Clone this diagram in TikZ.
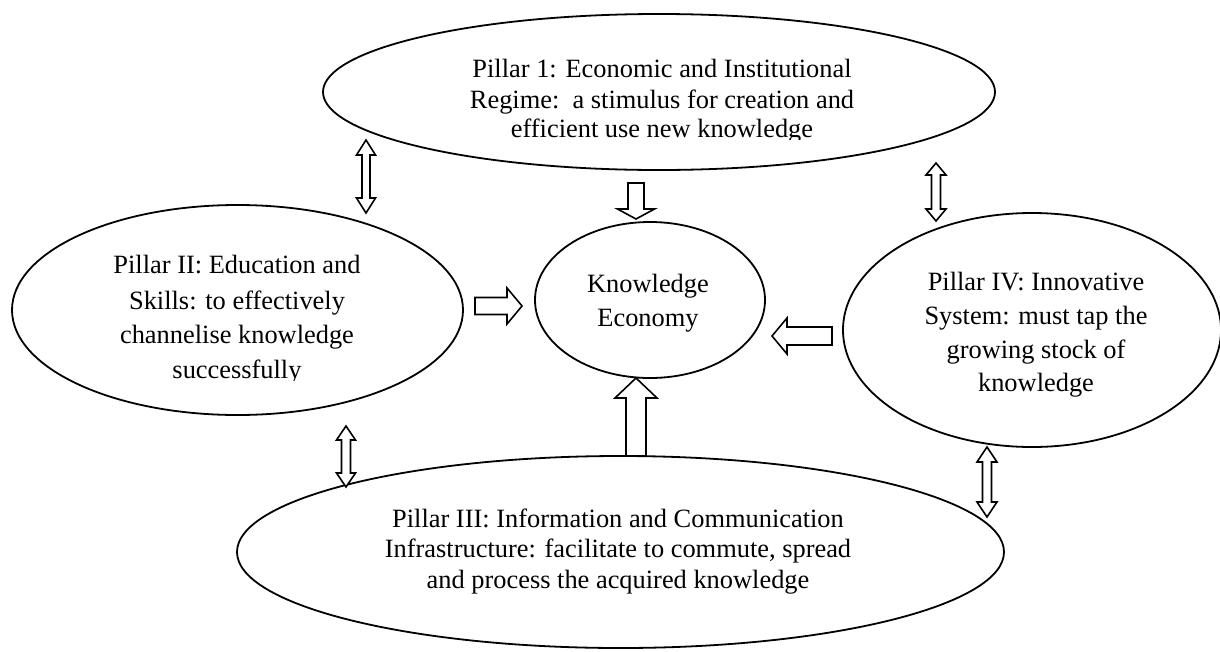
\documentclass[tikz,border=0pt]{standalone}
\usepackage{fontspec}
\setmainfont{Liberation Serif}
\usetikzlibrary{shapes.geometric}
\begin{document}
\begin{tikzpicture}[x=1pt,y=-1pt,
  pillar/.style={draw, ellipse, line width=1.8pt, inner sep=0pt},
  txt/.style={anchor=base, inner sep=0pt, font=\fontsize{26.4}{30}\selectfont},
  blk/.style={draw, line width=1.6pt, fill=white, line join=miter},
  pics/dbar/.style n args={4}{code={\draw[blk] (0,0) -- (#4,#3/2) -- (#4,#2/2) -- (#1-#4,#2/2) -- (#1-#4,#3/2) -- (#1,0) -- (#1-#4,-#3/2) -- (#1-#4,-#2/2) -- (#4,-#2/2) -- (#4,-#3/2) -- cycle;}},
  pics/sgar/.style n args={4}{code={\draw[blk] (0,#2/2) -- (#1-#4,#2/2) -- (#1-#4,#3/2) -- (#1,0) -- (#1-#4,-#3/2) -- (#1-#4,-#2/2) -- (0,-#2/2) -- cycle;}}
]
\useasboundingbox (0,0) rectangle (1220,651);
\fill[white] (0,0) rectangle (1220,651);

% ellipses
\node[pillar, minimum width=672pt, minimum height=156pt] (p1) at (659,92) {};
\node[pillar, minimum width=451pt, minimum height=210pt] (p2) at (237.5,310) {};
\node[pillar, minimum width=230pt, minimum height=156pt] (ke) at (650,300) {};
\node[pillar, minimum width=378pt, minimum height=234pt] (p4) at (1032,330) {};
\node[pillar, minimum width=767pt, minimum height=192pt] (p3) at (620.5,552) {};

% texts
\node[txt] (t1a) at (662,77) {Pillar 1: Economic and Institutional};
\node[txt] (t1b) at (662,108) {Regime:\ \ a stimulus for creation and};
\begin{scope}
\clip (300,110) rectangle (1000,139.5);
\node[txt] (t1c) at (662,137) {efficient use new knowledge};
\end{scope}

\node[txt] (t2a) at (237,273) {Pillar II: Education and};
\node[txt] (t2b) at (237,309) {Skills: to effectively};
\node[txt] (t2c) at (237,343) {channelise knowledge};
\begin{scope}
\clip (20,350) rectangle (460,380.5);
\node[txt] (t2d) at (237,378) {successfully};
\end{scope}

\node[txt] (tka) at (648,292) {Knowledge};
\node[txt] (tkb) at (648,326) {Economy};

\node[txt] (t4a) at (1036,290) {Pillar IV: Innovative};
\node[txt] (t4b) at (1036,324) {System: must tap the};
\node[txt] (t4c) at (1036,358) {growing stock of};
\node[txt] (t4d) at (1036,391) {knowledge};

\node[txt] (t3a) at (618,527) {Pillar III: Information and Communication};
\node[txt] (t3b) at (618,557) {Infrastructure: facilitate to commute, spread};
\node[txt] (t3c) at (618,588) {and process the acquired knowledge};

% block arrows
\pic[rotate=-90] at (366,140) {dbar={73}{8}{19}{15}};
\pic[rotate=-90] at (936,163) {dbar={58}{9}{20}{12}};
\pic[rotate=-90] at (346,426) {dbar={61}{9}{19}{14}};
\pic[rotate=-90] at (987,447) {dbar={70}{9}{20}{15}};
\pic[rotate=-90] at (636,183) {sgar={36}{16}{37}{10}};
\pic[rotate=90] at (636,456) {sgar={78}{20}{42}{20}};
\pic at (475,306) {sgar={47}{17}{36}{15}};
\pic[rotate=180] at (832,336) {sgar={60}{18}{36}{15}};
\end{tikzpicture}
\end{document}
